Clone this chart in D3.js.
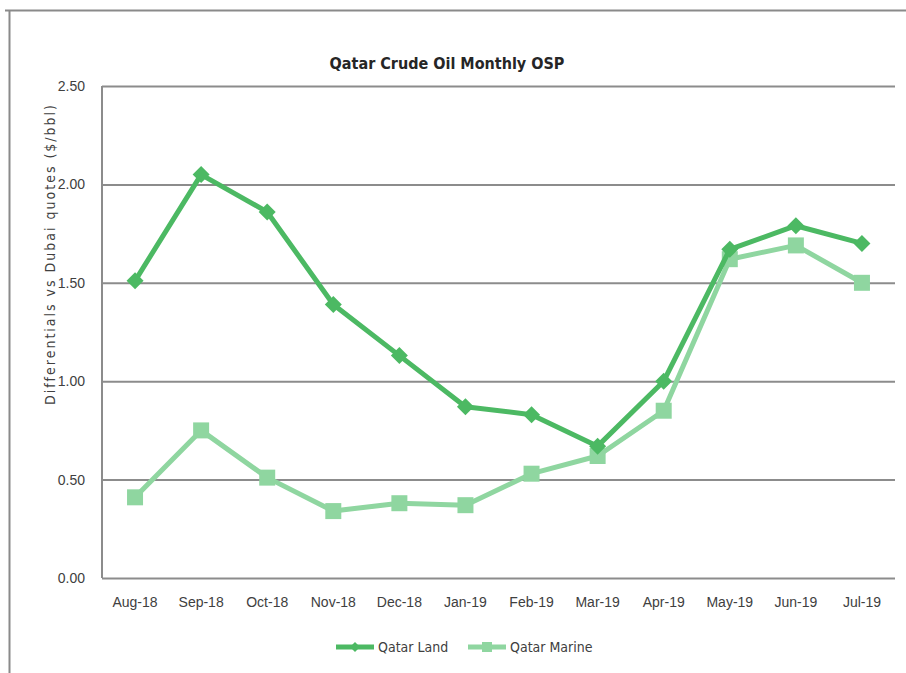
<!DOCTYPE html>
<html>
<head>
<meta charset="utf-8">
<script src="https://cdn.jsdelivr.net/npm/d3@7"></script>
<style>
    body { margin: 0; background: #fff; }
    svg { display: block; font-family: "Liberation Sans Narrow", "DejaVu Sans Condensed", sans-serif; }
</style>
</head>
<body>
<svg></svg>
<script>
// Chart data.
var months = ['Aug-18', 'Sep-18', 'Oct-18', 'Nov-18', 'Dec-18', 'Jan-19',
              'Feb-19', 'Mar-19', 'Apr-19', 'May-19', 'Jun-19', 'Jul-19'];
var qatarLand = [1.51, 2.05, 1.86, 1.39, 1.13, 0.87, 0.83, 0.67, 1.00, 1.67, 1.79, 1.70];
var qatarMarine = [0.41, 0.75, 0.51, 0.34, 0.38, 0.37, 0.53, 0.62, 0.85, 1.62, 1.69, 1.50];
var yTicks = [0, 0.5, 1, 1.5, 2, 2.5];

var series = [
    { name: 'Qatar Land', values: qatarLand, color: '#4cb963', marker: 'diamond' },
    { name: 'Qatar Marine', values: qatarMarine, color: '#8fd6a0', marker: 'square' }
];

var width = 906;
var height = 673;
var margin = { top: 86, right: 11, bottom: 95, left: 102 };

var svg = d3.select('svg')
    .attr('width', width)
    .attr('height', height)
;

// Outer chart frame (only top and left edges are visible in the crop).
svg.append('path')
    .attr('d', 'M5,10.5H906M9.5,10V673')
    .style('fill', 'none')
    .style('stroke', '#8a8a8a')
    .style('stroke-width', 2)
;

var chart = svg.append('g')
    .attr('transform', 'translate(' + margin.left + ',' + margin.top + ')')
;

var plotW = width - margin.left - margin.right;
var plotH = height - margin.top - margin.bottom;

var xScale = d3.scaleBand()
    .domain(months)
    .range([0, plotW])
;

var yScale = d3.scaleLinear()
    .domain([0, 2.5])
    .range([plotH, 0])
;

// Gridlines and y tick labels.
var yAxis = d3.axisLeft(yScale)
    .tickValues(yTicks)
    .tickSize(-plotW)
    .tickPadding(17)
    .tickFormat(d3.format('.2f'))
;

var yAxisG = chart.append('g').call(yAxis);
yAxisG.select('.domain').remove();
yAxisG.selectAll('line')
    .style('stroke', '#8c8c8c')
    .style('stroke-width', 2)
;
yAxisG.selectAll('text')
    .style('font-size', '14px')
    .style('fill', '#404040')
;

// Left axis line.
chart.append('line')
    .attr('x1', 0).attr('x2', 0)
    .attr('y1', 0).attr('y2', plotH)
    .style('stroke', '#8c8c8c')
    .style('stroke-width', 2)
;

// x axis labels.
var xAxis = d3.axisBottom(xScale)
    .tickSize(0)
    .tickPadding(19)
;
var xAxisG = chart.append('g')
    .attr('transform', 'translate(0,' + plotH + ')')
    .call(xAxis)
;
xAxisG.select('.domain').remove();
xAxisG.selectAll('text')
    .style('font-size', '14px')
    .style('fill', '#404040')
;

// Lines and markers.
var line = d3.line()
    .x(function(d, i) { return xScale(months[i]) + xScale.bandwidth() / 2; })
    .y(function(d) { return yScale(d); })
;

function markerPath(type, size) {
    if (type === 'diamond') {
        return 'M0,' + (-size) + 'L' + size + ',0L0,' + size + 'L' + (-size) + ',0Z';
    }
    return 'M' + (-size) + ',' + (-size) + 'H' + size + 'V' + size + 'H' + (-size) + 'Z';
}

// Draw Marine first so Land sits on top.
series.slice().reverse().forEach(function(s) {
    chart.append('path')
        .datum(s.values)
        .attr('d', line)
        .style('fill', 'none')
        .style('stroke', s.color)
        .style('stroke-width', 5)
        .style('stroke-linejoin', 'round')
    ;
    chart.selectAll('.marker-' + s.marker)
        .data(s.values)
        .enter()
        .append('path')
        .classed('marker-' + s.marker, true)
        .attr('transform', function(d, i) {
            return 'translate(' + (xScale(months[i]) + xScale.bandwidth() / 2) + ',' + yScale(d) + ')';
        })
        .attr('d', markerPath(s.marker, s.marker === 'diamond' ? 8.5 : 8))
        .style('fill', s.color)
    ;
});

// Title.
svg.append('text')
    .attr('x', 447)
    .attr('y', 69)
    .attr('text-anchor', 'middle')
    .style('font-size', '16px')
    .style('font-weight', 'bold')
    .style('fill', '#262626')
    .text('Qatar Crude Oil Monthly OSP')
;

// y axis title.
svg.append('text')
    .attr('transform', 'translate(55,254) rotate(-90)')
    .attr('text-anchor', 'middle')
    .style('font-size', '14px')
    .style('letter-spacing', '2px')
    .style('fill', '#404040')
    .text('Differentials vs Dubai quotes ($/bbl)')
;

// Legend.
var legend = svg.append('g')
    .attr('transform', 'translate(336,647)')
;
var legendX = [0, 132];
series.forEach(function(s, i) {
    var g = legend.append('g').attr('transform', 'translate(' + legendX[i] + ',0)');
    g.append('line')
        .attr('x1', 0).attr('x2', 38)
        .style('stroke', s.color)
        .style('stroke-width', 5)
    ;
    g.append('path')
        .attr('transform', 'translate(19,0)')
        .attr('d', markerPath(s.marker, 5))
        .style('fill', s.color)
    ;
    g.append('text')
        .attr('x', 42)
        .attr('dy', '0.35em')
        .style('font-size', '14px')
        .style('fill', '#404040')
        .text(s.name)
    ;
});
</script>
</body>
</html>
